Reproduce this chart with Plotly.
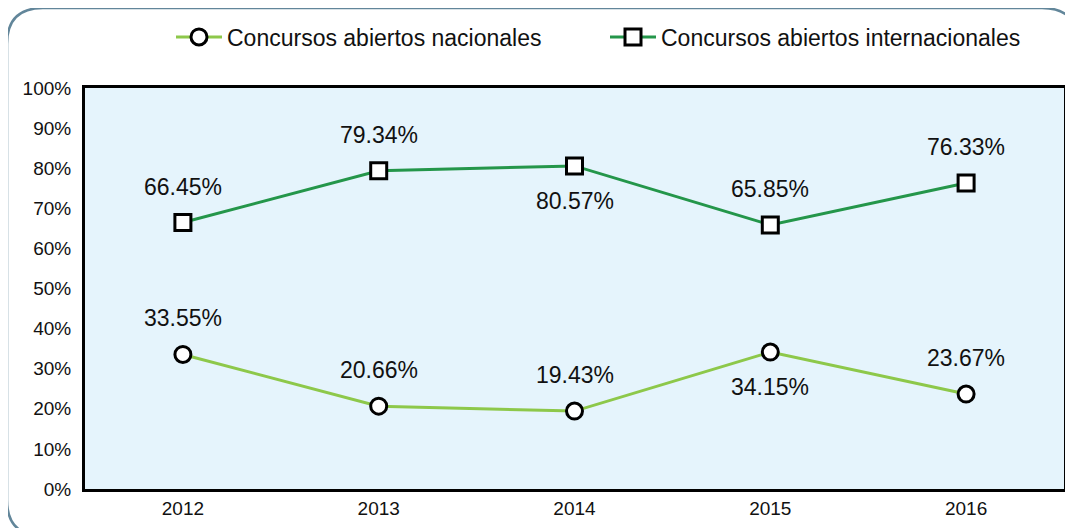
import plotly.graph_objects as go

years = ["2012", "2013", "2014", "2015", "2016"]
nacionales = [33.55, 20.66, 19.43, 34.15, 23.67]
internacionales = [66.45, 79.34, 80.57, 65.85, 76.33]
nac_label_pos = ["top", "top", "top", "bottom", "top"]
int_label_pos = ["top", "top", "bottom", "top", "top"]

# the page body adds an 8px margin around the figure
OFF = 8
W, H = 1073, 528
L, T = 85 - OFF, 88 - OFF
R = W - (1064 - OFF)
B = H - (489 - OFF)
pw, ph = W - L - R, H - T - B

FONT = "Liberation Sans, Arial, Helvetica, sans-serif"

fig = go.Figure()
fig.add_trace(go.Scatter(
    x=years, y=nacionales, mode="lines+markers", name="Concursos abiertos nacionales",
    line=dict(color="#8dc84a", width=3),
    marker=dict(symbol="circle", size=16, color="white", line=dict(color="black", width=3)),
))
fig.add_trace(go.Scatter(
    x=years, y=internacionales, mode="lines+markers", name="Concursos abiertos internacionales",
    line=dict(color="#24964a", width=3),
    marker=dict(symbol="square", size=16, color="white", line=dict(color="black", width=3)),
))

annotations = []
for vals, poss in ((nacionales, nac_label_pos), (internacionales, int_label_pos)):
    for i, (v, p) in enumerate(zip(vals, poss)):
        annotations.append(dict(
            x=i, y=v, xref="x", yref="y", text=f"{v:.2f}%", showarrow=False,
            yshift=36 if p == "top" else -35,
            font=dict(family=FONT, size=23, color="#111111"),
        ))

def px(x):
    return (x - OFF - L) / pw

def py(y):
    return (H - B - (y - OFF)) / ph

x0, y0, x1, y1, r = 7, 8, 1078, 536, 36
path = (
    f"M {px(x0)},{py(y0 + r)} "
    f"Q {px(x0)},{py(y0)} {px(x0 + r)},{py(y0)} "
    f"L {px(x1 - r)},{py(y0)} "
    f"Q {px(x1)},{py(y0)} {px(x1)},{py(y0 + r)} "
    f"L {px(x1)},{py(y1 - r)} "
    f"Q {px(x1)},{py(y1)} {px(x1 - r)},{py(y1)} "
    f"L {px(x0 + r)},{py(y1)} "
    f"Q {px(x0)},{py(y1)} {px(x0)},{py(y1 - r)} Z"
)

fig.update_layout(
    width=W, height=H,
    margin=dict(l=L, r=R, t=T, b=B, autoexpand=False),
    paper_bgcolor="white",
    plot_bgcolor="#e5f4fc",
    font=dict(family=FONT, color="#111111"),
    showlegend=True,
    legend=dict(
        orientation="h", x=px(171), y=py(37), xanchor="left", yanchor="middle",
        font=dict(family=FONT, size=23, color="#111111"),
        itemwidth=46, entrywidth=373, bgcolor="rgba(0,0,0,0)",
    ),
    annotations=annotations,
    shapes=[dict(type="path", path=path, xref="paper", yref="paper",
                 line=dict(color="#62869a", width=2.5), layer="below")],
    xaxis=dict(
        type="category", range=[-0.5, len(years) - 0.5], autorange=False,
        showgrid=False, zeroline=False,
        showline=True, linecolor="black", linewidth=3, mirror=True,
        ticks="", tickfont=dict(family=FONT, size=19, color="#111111"),
    ),
    yaxis=dict(
        range=[0, 100], dtick=10, ticksuffix="%", showgrid=False, zeroline=False,
        showline=True, linecolor="black", linewidth=3, mirror=True,
        ticks="outside", ticklen=7, tickcolor="rgba(0,0,0,0)",
        tickfont=dict(family=FONT, size=19, color="#111111"),
    ),
)

fig.write_html("out.html")
